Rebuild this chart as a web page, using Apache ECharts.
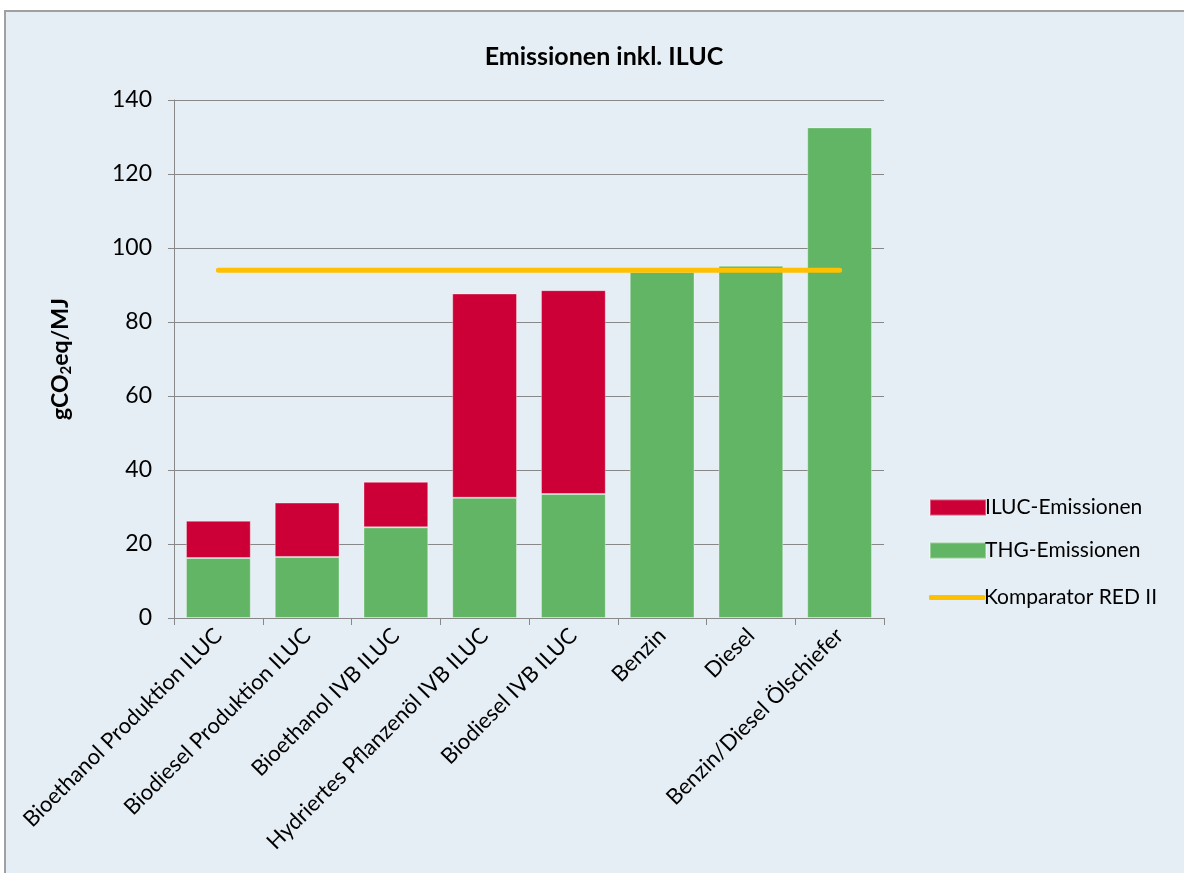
<!DOCTYPE html>
<html>
<head>
<meta charset="utf-8">
<script src="https://cdn.jsdelivr.net/npm/echarts@6/dist/echarts.min.js"></script>
<style>
  html, body { margin: 0; padding: 0; background: #fff; }
  #wrap {
    position: absolute; left: 4px; top: 10px;
    width: 1180px; height: 863px;
    background: #e6eef5;
    border-left: 2px solid #a0a0a0;
    border-top: 2px solid #a0a0a0;
    box-sizing: border-box;
  }
  #chart { width: 100%; height: 100%; }
</style>
</head>
<body>
<div id="wrap"><div id="chart"></div></div>
<script>
// Kategorien
const categories = [
  "Bioethanol Produktion ILUC",
  "Biodiesel Produktion ILUC",
  "Bioethanol IVB ILUC",
  "Hydriertes Pflanzenöl IVB ILUC",
  "Biodiesel IVB ILUC",
  "Benzin",
  "Diesel",
  "Benzin/Diesel Ölschiefer"
];
// THG-Emissionen (gCO2eq/MJ)
const thgValues = [16.2, 16.5, 24.5, 32.5, 33.5, 93.5, 95.2, 132.6];
// ILUC-Emissionen oben drauf
const ilucValues = [10.1, 14.7, 12.3, 55.2, 55.1, 0, 0, 0];
// Komparator RED II
const komparator = [94, 94, 94, 94, 94, 94, 94, 94];

const font = "Lato, 'Open Sans', sans-serif";
const chart = echarts.init(document.getElementById("chart"));

const legendText = { fontSize: 21, color: "#000", fontFamily: font, padding: [0, 0, 0, -6] };

const option = {
  animation: false,
  textStyle: { fontFamily: font },
  title: {
    text: "Emissionen inkl. ILUC",
    left: 593, top: 27,
    textAlign: "center",
    textStyle: { fontSize: 25, fontWeight: "bold", color: "#000", fontFamily: font }
  },
  legend: [
    {
      orient: "vertical",
      left: 918, top: 480,
      itemGap: 22,
      itemWidth: 56, itemHeight: 16,
      data: [
        { name: "ILUC-Emissionen", icon: "rect" },
        { name: "THG-Emissionen", icon: "rect" }
      ],
      textStyle: legendText
    },
    {
      orient: "vertical",
      left: 918, top: 570,
      itemWidth: 56, itemHeight: 5,
      data: [{ name: "Komparator RED II", icon: "roundRect" }],
      textStyle: legendText
    }
  ],
  grid: { left: 168, right: 300, top: 88, bottom: 255 },
  xAxis: {
    type: "category",
    data: categories,
    axisLine: { lineStyle: { color: "#888", width: 1 } },
    axisTick: { show: true, length: 7, lineStyle: { color: "#888" } },
    axisLabel: {
      rotate: 45, interval: 0, fontSize: 22, color: "#000",
      fontFamily: font, margin: 14
    }
  },
  yAxis: {
    type: "value",
    min: 0, max: 140, interval: 20,
    name: "{a|gCO}{s|2}{a|eq/MJ}",
    nameLocation: "middle",
    nameGap: 100,
    nameRotate: 90,
    nameTextStyle: {
      rich: {
        a: { fontSize: 23, fontWeight: "bold", color: "#000", fontFamily: font },
        s: { fontSize: 15, fontWeight: "bold", color: "#000", fontFamily: font, padding: [12, 0, 0, 0] }
      }
    },
    axisLine: { show: true, lineStyle: { color: "#888" } },
    axisTick: { show: true, length: 6, lineStyle: { color: "#888" } },
    axisLabel: { fontSize: 23, color: "#000", fontFamily: font, margin: 22 },
    splitLine: { lineStyle: { color: "#888", width: 1 } }
  },
  series: [
    {
      name: "THG-Emissionen",
      type: "bar",
      stack: "total",
      data: thgValues,
      barCategoryGap: "27%",
      itemStyle: { color: "#61b565", borderColor: "rgba(255,255,255,0.35)", borderWidth: 1 }
    },
    {
      name: "ILUC-Emissionen",
      type: "bar",
      stack: "total",
      data: ilucValues.map(v => (v === 0 ? null : v)),
      itemStyle: { color: "#cc0036", borderColor: "rgba(255,255,255,0.35)", borderWidth: 1 }
    },
    {
      name: "Komparator RED II",
      type: "line",
      data: komparator,
      symbol: "none",
      lineStyle: { color: "#ffc000", width: 5, cap: "round" },
      itemStyle: { color: "#ffc000" },
      z: 5
    }
  ]
};
chart.setOption(option);
</script>
</body>
</html>
